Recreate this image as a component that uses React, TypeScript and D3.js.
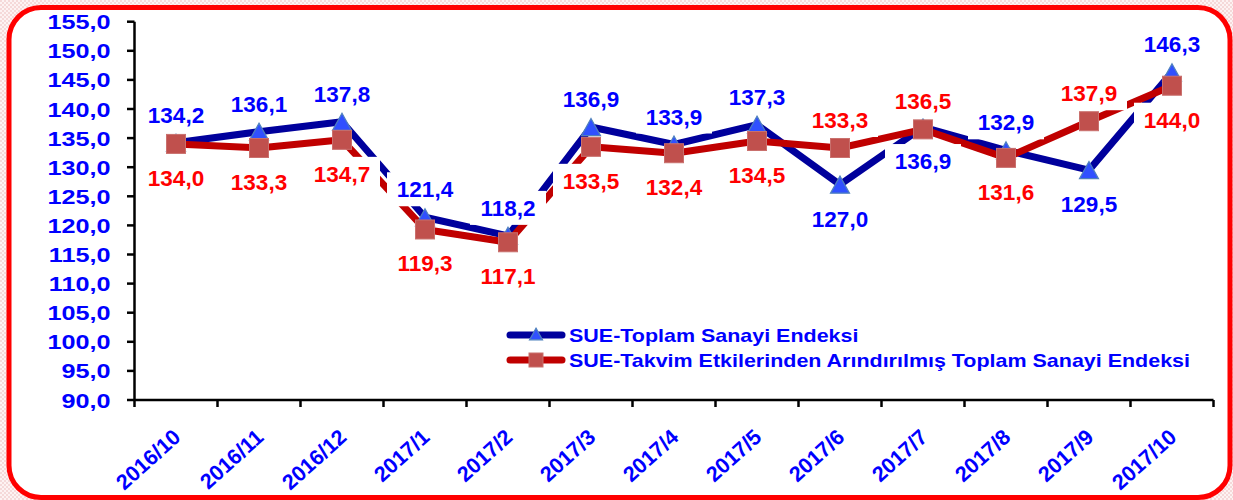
import React from 'react';
import * as d3 from 'd3';

// monthly index values
const categories = ['2016/10', '2016/11', '2016/12', '2017/1', '2017/2', '2017/3', '2017/4',
  '2017/5', '2017/6', '2017/7', '2017/8', '2017/9', '2017/10'];
const sueTotal = [134.2, 136.1, 137.8, 121.4, 118.2, 136.9, 133.9, 137.3, 127.0, 136.9, 132.9, 129.5, 146.3];
const sueCalendar = [134.0, 133.3, 134.7, 119.3, 117.1, 133.5, 132.4, 134.5, 133.3, 136.5, 131.6, 137.9, 144.0];
// which side of the point each value label sits on
const totalSide = ['up', 'up', 'up', 'up', 'up', 'up', 'up', 'up', 'down', 'down', 'up', 'down', 'up'];
const calendarSide = ['down', 'down', 'down', 'down', 'down', 'down', 'down', 'down', 'up', 'up', 'down', 'up', 'down'];
const yTicks = [90, 95, 100, 105, 110, 115, 120, 125, 130, 135, 140, 145, 150, 155];
const legendNames = ['SUE-Toplam Sanayi Endeksi', 'SUE-Takvim Etkilerinden Arındırılmış Toplam Sanayi Endeksi'];

const W = 1233, H = 500;
const FONT = '"Liberation Sans", Arial, sans-serif';
const trFormat = d3.formatLocale({ decimal: ',', thousands: '.', grouping: [3], currency: ['', ' TL'] }).format('.1f');

const BLUE_LINE = '#00009c';
const RED_LINE = '#c00000';
const BLUE_TEXT = '#0000ff';
const RED_TEXT = '#ff0000';

const x = d3.scaleBand().domain(categories).range([134.5, 1213.5]);
const y = d3.scaleLinear().domain([90, 155]).range([400, 21.7]);
const cx = (c) => (x(c) as number) + x.bandwidth() / 2;

function Triangle({ px, py, s = 19 }) {
  const h = s * 0.9;
  const pts = [[px, py - h / 2], [px + s / 2, py + h / 2], [px - s / 2, py + h / 2]];
  return <polygon points={pts.map((p) => p.join(',')).join(' ')} fill="#3050ff" stroke="#4f81bd" strokeWidth={1.2} />;
}

function Square({ px, py, s = 19 }) {
  return <rect x={px - s / 2} y={py - s / 2} width={s} height={s} fill="#c0504d" stroke="#c9706d" strokeWidth={1} />;
}

function ValueLabel({ px, py, value, side, color }) {
  const cy = side === 'up' ? py - 28 : py + 34;
  return (
    <g>
      <rect x={px - 38} y={cy - 17} width={76} height={34} fill="#fff" />
      <text x={px} y={cy + 8} textAnchor="middle" fill={color} fontSize={22.5} fontWeight="bold" fontFamily={FONT}>
        {trFormat(value)}
      </text>
    </g>
  );
}

export default function App() {
  const lineGen = d3.line<number>().x((_, i) => cx(categories[i])).y((d) => y(d));

  return (
    <svg width={W} height={H} style={{ position: 'absolute', left: 0, top: 0 }}>
      <defs>
        <pattern id="bgDots" width={4} height={4} patternUnits="userSpaceOnUse">
          <rect width={4} height={4} fill="#fdf3f3" />
          <rect width={2} height={2} fill="#f5d9d9" />
          <rect x={2} y={2} width={2} height={2} fill="#f5d9d9" />
        </pattern>
      </defs>
      <rect width={W} height={H} fill="url(#bgDots)" />
      <rect x={9} y={7.5} width={1221} height={490} rx={32} fill="#fff" stroke="#ff0000" strokeWidth={5} />

      {/* y axis */}
      <line x1={134.5} x2={134.5} y1={y(155)} y2={y(90)} stroke="#000" strokeWidth={2.5} />
      {yTicks.map((t) => (
        <g key={t}>
          <line x1={127} x2={134.5} y1={y(t)} y2={y(t)} stroke="#000" strokeWidth={2.5} />
          <text transform={`translate(110.5,${y(t) + 7.5}) scale(1.2,1)`} textAnchor="end" fill={BLUE_TEXT}
            fontSize={21} fontWeight="bold" fontFamily={FONT}>{trFormat(t)}</text>
        </g>
      ))}

      {/* x axis */}
      <line x1={134.5} x2={1213.5} y1={400} y2={400} stroke="#000" strokeWidth={2.5} />
      {categories.map((c) => (
        <line key={'t' + c} x1={x(c)} x2={x(c)} y1={400} y2={407} stroke="#000" strokeWidth={2.5} />
      ))}
      <line x1={1213.5} x2={1213.5} y1={400} y2={407} stroke="#000" strokeWidth={2.5} />
      {categories.map((c) => (
        <text key={'l' + c} transform={`translate(${cx(c) + 6},${439}) rotate(-42)`} textAnchor="end"
          fill={BLUE_TEXT} fontSize={21.5} fontWeight="bold" fontFamily={FONT}>{c}</text>
      ))}

      {/* series */}
      <path d={lineGen(sueTotal) as string} fill="none" stroke={BLUE_LINE} strokeWidth={7} strokeLinejoin="round" />
      <path d={lineGen(sueCalendar) as string} fill="none" stroke={RED_LINE} strokeWidth={7} strokeLinejoin="round" />
      {sueTotal.map((v, i) => <Triangle key={'a' + i} px={cx(categories[i])} py={y(v)} />)}
      {sueCalendar.map((v, i) => <Square key={'b' + i} px={cx(categories[i])} py={y(v)} />)}

      {/* value labels */}
      {sueTotal.map((v, i) => (
        <ValueLabel key={'va' + i} px={cx(categories[i])} py={y(v)} value={v} side={totalSide[i]} color={BLUE_TEXT} />
      ))}
      {sueCalendar.map((v, i) => (
        <ValueLabel key={'vb' + i} px={cx(categories[i])} py={y(v)} value={v} side={calendarSide[i]} color={RED_TEXT} />
      ))}

      {/* legend */}
      {legendNames.map((name, i) => {
        const ly = 335 + i * 25;
        return (
          <g key={name}>
            <line x1={510} x2={562} y1={ly} y2={ly} stroke={i === 0 ? BLUE_LINE : RED_LINE} strokeWidth={7} strokeLinecap="round" />
            {i === 0 ? <Triangle px={536} py={ly - 1} s={13} /> : <Square px={536} py={ly} s={14} />}
            <text transform={`translate(569,${ly + 7}) scale(1.13,1)`} fill={BLUE_TEXT} fontSize={19}
              fontWeight="bold" fontFamily={FONT}>{name}</text>
          </g>
        );
      })}
    </svg>
  );
}
